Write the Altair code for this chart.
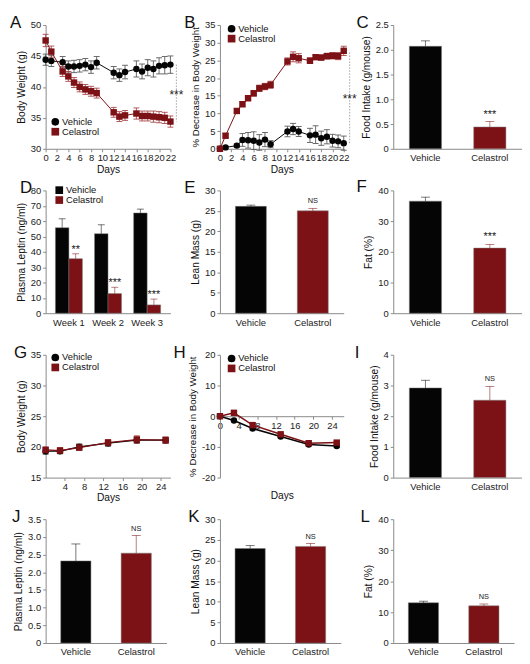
import altair as alt
import pandas as pd

FONT = "Liberation Sans"
GROUPS = ["Vehicle", "Celastrol"]
COLORS = ["#050505", "#7c1215"]
ERR_COLORS = ["#5a5a5a", "#a8474a"]
SHAPES = ["circle", "square"]

# ---- Panel A: body weight (g), DIO mice
days_A = [0, 1, 3, 4, 5, 6, 7, 8, 9, 12, 13, 14, 16, 17, 18, 19, 20, 21, 22]
bw_veh = [44.4, 44.2, 44.0, 43.3, 43.3, 43.4, 43.6, 43.2, 43.9, 42.3, 41.9, 42.4, 42.9, 42.5, 43.1, 42.9, 43.4, 43.5, 43.6]
bw_veh_err = [0.9, 0.9, 0.9, 0.9, 1.0, 1.0, 1.0, 1.0, 1.0, 1.0, 1.0, 1.1, 1.3, 1.2, 1.3, 1.3, 1.3, 1.4, 1.4]
bw_cel = [47.5, 45.7, 42.5, 41.7, 40.7, 40.0, 39.6, 39.3, 39.0, 35.9, 35.2, 35.4, 35.7, 35.3, 35.3, 35.2, 35.1, 35.0, 34.4]
bw_cel_err = [1.0, 0.9, 0.8, 0.8, 0.8, 0.8, 0.8, 0.8, 0.8, 0.8, 0.8, 0.8, 0.9, 0.8, 0.8, 0.9, 0.9, 0.9, 0.9]

# ---- Panel B: % decrease in body weight
pd_veh = [0, 0.4, 0.9, 2.5, 2.4, 2.3, 1.8, 2.6, 1.3, 4.9, 5.6, 4.9, 3.8, 4.0, 3.0, 3.4, 2.3, 2.1, 1.6]
pd_veh_err = [0.3, 0.3, 0.5, 1.8, 2.2, 2.5, 2.2, 2.0, 1.0, 1.5, 1.6, 1.4, 2.0, 2.5, 2.0, 2.0, 1.8, 1.8, 2.0]
pd_cel = [0, 3.7, 10.7, 12.6, 14.3, 15.7, 17.1, 17.6, 18.1, 24.7, 26.0, 25.6, 24.9, 25.9, 25.8, 26.2, 26.3, 26.2, 27.7]
pd_cel_err = [0.5, 0.6, 0.6, 0.7, 0.7, 0.8, 0.9, 0.9, 1.0, 1.0, 1.4, 1.3, 0.8, 0.6, 0.7, 0.8, 0.9, 1.0, 1.3]

# ---- Panel C: food intake
fi_dio = [2.07, 0.44]
fi_dio_err = [0.11, 0.11]

# ---- Panel D: plasma leptin by week
weeks = ["Week 1", "Week 2", "Week 3"]
lep_veh = [55.7, 51.8, 65.3]
lep_veh_err = [5.8, 5.8, 2.5]
lep_cel = [35.5, 12.8, 5.4]
lep_cel_err = [3.2, 4.1, 3.8]
lep_sig = ["**", "***", "***"]

# ---- Panels E, F
lean_dio = [26.1, 25.0]
lean_dio_err = [0.3, 0.6]
fat_dio = [36.5, 21.2]
fat_dio_err = [1.3, 1.2]

# ---- Panels G, H: lean mice
days_G = [0, 3, 7, 13, 19, 25]
bwl_veh = [19.3, 19.3, 20.0, 20.6, 21.1, 21.1]
bwl_veh_err = [0.5, 0.4, 0.5, 0.5, 0.5, 0.5]
bwl_cel = [19.5, 19.4, 19.9, 20.7, 21.2, 21.1]
bwl_cel_err = [0.5, 0.5, 0.5, 0.5, 0.6, 0.5]
pdl_veh = [0, -1.4, -4.0, -6.6, -9.2, -9.7]
pdl_veh_err = [0.3, 0.4, 0.5, 0.4, 0.4, 0.4]
pdl_cel = [0, 1.1, -2.9, -5.9, -8.8, -8.6]
pdl_cel_err = [0.3, 0.4, 0.5, 0.4, 0.4, 0.4]

# ---- Panels I, J, K, L
fi_lean = [2.92, 2.52]
fi_lean_err = [0.25, 0.45]
lep_lean = [2.32, 2.54]
lep_lean_err = [0.48, 0.50]
lean_lean = [22.9, 23.4]
lean_lean_err = [0.7, 0.7]
fat_lean = [13.0, 12.0]
fat_lean_err = [0.5, 0.6]

DEC1 = "datum.value == 0 ? '0' : format(datum.value, '.1f')"
SIGNED = "datum.value < 0 ? '-' + abs(datum.value) : '' + datum.value"

TITLE_DY = 25


def legend(x, y, symbol_type=None):
    kw = dict(title=None, orient="none", legendX=x, legendY=y, labelFontSize=9.5,
              labelFont=FONT, labelColor="#111", symbolSize=60, rowPadding=-1,
              labelOffset=2, padding=0, symbolStrokeWidth=0)
    if symbol_type:
        kw["symbolType"] = symbol_type
    return alt.Legend(**kw)


def title(letter, dx, dy=0):
    return alt.TitleParams(letter, dx=dx, dy=TITLE_DY + dy, offset=0, baseline="alphabetic",
                           anchor="start", frame="group")


def line_panel(letter, dx, days, veh, veh_err, cel, cel_err, ydom, yvals, ytitle,
               xdom, xvals, width, height, leg_xy, sig=None, x_offset=0,
               title_y=None, ylabel_expr=None, lw=1.0, ytitle_size=10.3, tdy=0):
    recs = []
    for g, vals, errs in zip(GROUPS, (veh, cel), (veh_err, cel_err)):
        for d, v, e in zip(days, vals, errs):
            recs.append(dict(day=d, value=v, lo=v - e, hi=v + e, group=g))
    df = pd.DataFrame(recs)
    base = alt.Chart(df)
    xs = alt.Scale(domain=xdom, nice=False, zero=False)
    ys = alt.Scale(domain=ydom, nice=False, zero=False)
    xak = dict(values=xvals, title="Days", labelOverlap=False, labelFlush=False, offset=x_offset,
               tickSize=3, labelPadding=1, titlePadding=2)
    if title_y is not None:
        xak.update(titleY=title_y, titleBaseline="top")
    yak = dict(values=yvals, title=ytitle, titleFontSize=ytitle_size)
    if ylabel_expr:
        yak["labelExpr"] = ylabel_expr

    def X(f):
        return alt.X(f, type="quantitative", scale=xs, axis=alt.Axis(**xak))

    def Y(f):
        return alt.Y(f, type="quantitative", scale=ys, axis=alt.Axis(**yak))

    layers = []
    for g, lc, ec in zip(GROUPS, COLORS, ERR_COLORS):
        sub = base.transform_filter(alt.datum.group == g)
        layers.append(sub.mark_rule(color=ec, strokeWidth=0.9).encode(x=X("day"), y=Y("lo"), y2="hi:Q"))
        layers.append(sub.mark_tick(color=ec, orient="horizontal", size=6, thickness=0.9, opacity=1)
                      .encode(x=X("day"), y=Y("lo")))
        layers.append(sub.mark_tick(color=ec, orient="horizontal", size=6, thickness=0.9, opacity=1)
                      .encode(x=X("day"), y=Y("hi")))
        layers.append(sub.mark_line(color=lc, strokeWidth=lw).encode(x=X("day"), y=Y("value")))
    leg = legend(*leg_xy)
    layers.append(base.mark_point(filled=True, size=42, opacity=1).encode(
        x=X("day"), y=Y("value"),
        color=alt.Color("group:N", scale=alt.Scale(domain=GROUPS, range=COLORS), legend=leg),
        shape=alt.Shape("group:N", scale=alt.Scale(domain=GROUPS, range=SHAPES), legend=leg)))
    if sig:
        sdf = pd.DataFrame({"top": [veh[-1]], "bot": [cel[-1]],
                            "mid": [(veh[-1] + cel[-1]) / 2], "label": [sig]})
        sc = alt.Chart(sdf)
        layers.append(sc.mark_rule(strokeDash=[1.5, 1.5], color="#8a8a8a", strokeWidth=0.8)
                      .encode(x=alt.value(width + 6), y=Y("top"), y2="bot:Q"))
        layers.append(sc.mark_text(fontSize=12, font=FONT, color="#222", baseline="middle", dy=2)
                      .encode(x=alt.value(width + 6), y=Y("mid"), text="label:N"))
    return alt.layer(*layers).properties(width=width, height=height, title=title(letter, dx, tdy))


def bar_panel(letter, dx, vals, errs, sig, ydom, yvals, ytitle, width, height,
              ylabel_expr=None, sig_size=11, sig_dy=0, tdy=0):
    df = pd.DataFrame({"group": GROUPS, "value": vals, "err": errs, "sig": ["", sig]})
    df["hi"] = df["value"] + df["err"]
    base = alt.Chart(df)
    X = alt.X("group:N", sort=GROUPS,
              scale=alt.Scale(domain=GROUPS, paddingInner=0.5, paddingOuter=0.25),
              axis=alt.Axis(title=None, labelAngle=0, ticks=False, labelPadding=4))
    yak = dict(values=yvals, title=ytitle)
    if ylabel_expr:
        yak["labelExpr"] = ylabel_expr
    ys = alt.Scale(domain=ydom, nice=False)

    def Y(f):
        return alt.Y(f, type="quantitative", scale=ys, axis=alt.Axis(**yak))

    C = alt.Color("group:N", scale=alt.Scale(domain=GROUPS, range=COLORS), legend=None)
    bars = base.mark_bar(stroke="#7a7a7a", strokeWidth=0.5).encode(x=X, y=Y("value"), color=C)
    rule = base.mark_rule(opacity=0.6, strokeWidth=0.9).encode(x=X, y=Y("value"), y2="hi:Q", color=C)
    cap = base.mark_tick(orient="horizontal", size=9, thickness=0.9, opacity=0.6).encode(x=X, y=Y("hi"), color=C)
    txt = base.mark_text(baseline="bottom", dy=sig_dy, fontSize=sig_size, font=FONT, color="#222").encode(
        x=X, y=Y("hi"), text="sig:N")
    return alt.layer(bars, rule, cap, txt).properties(width=width, height=height, title=title(letter, dx, tdy))


def grouped_panel(letter, dx, width, height):
    recs = []
    for g, vals, errs in zip(GROUPS, (lep_veh, lep_cel), (lep_veh_err, lep_cel_err)):
        for w, v, e, s in zip(weeks, vals, errs, lep_sig):
            recs.append(dict(week=w, group=g, value=v, hi=v + e, sig=s if g == "Celastrol" else ""))
    df = pd.DataFrame(recs)
    base = alt.Chart(df)
    X = alt.X("week:N", sort=weeks, scale=alt.Scale(paddingInner=0.31, paddingOuter=0.25),
              axis=alt.Axis(title=None, labelAngle=0, ticks=False, labelPadding=4))
    XO = alt.XOffset("group:N", sort=GROUPS, scale=alt.Scale(domain=GROUPS, paddingInner=0, paddingOuter=0))
    ys = alt.Scale(domain=[0, 80], nice=False)

    def Y(f):
        return alt.Y(f, type="quantitative", scale=ys,
                     axis=alt.Axis(values=list(range(0, 81, 10)), title="Plasma Leptin (ng/ml)"))

    leg = legend(9, -5, "square")
    C = alt.Color("group:N", scale=alt.Scale(domain=GROUPS, range=COLORS), legend=leg)
    bars = base.mark_bar(stroke="#7a7a7a", strokeWidth=0.5).encode(x=X, xOffset=XO, y=Y("value"), color=C)
    rule = base.mark_rule(opacity=0.6, strokeWidth=0.9).encode(x=X, xOffset=XO, y=Y("value"), y2="hi:Q", color=C)
    cap = base.mark_tick(orient="horizontal", size=7, thickness=0.9, opacity=0.6).encode(
        x=X, xOffset=XO, y=Y("hi"), color=C)
    txt = base.mark_text(baseline="bottom", dy=1, fontSize=11, font=FONT, color="#222").encode(
        x=X, xOffset=XO, y=Y("hi"), text="sig:N")
    return alt.layer(bars, rule, cap, txt).properties(width=width, height=height, title=title(letter, dx))


A = line_panel("A", -36, days_A, bw_veh, bw_veh_err, bw_cel, bw_cel_err, [30, 50],
               [30, 35, 40, 45, 50], "Body Weight (g)", [0, 22], list(range(0, 23, 2)),
               126, 125, (5, 93), sig="***")
B = line_panel("B", -36, days_A, pd_veh, pd_veh_err, pd_cel, pd_cel_err, [0, 35],
               list(range(0, 36, 5)), "% Decrease in Body Weight", [0, 22], list(range(0, 23, 2)),
               125, 125, (7, -1), sig="***", ytitle_size=9.8)
Cp = bar_panel("C", -37, fi_dio, fi_dio_err, "***", [0, 2.5], [0, 0.5, 1.0, 1.5, 2.0, 2.5],
               "Food Intake (g/mouse)", 130, 125, ylabel_expr=DEC1, sig_size=11, sig_dy=-2)
D = grouped_panel("D", -26, 126, 124)
E = bar_panel("E", -36, lean_dio, lean_dio_err, "NS", [0, 30], list(range(0, 31, 5)),
              "Lean Mass (g)", 125, 124, sig_size=7.5, sig_dy=-3)
F = bar_panel("F", -37, fat_dio, fat_dio_err, "***", [0, 40], [0, 10, 20, 30, 40],
              "Fat (%)", 130, 124, sig_size=11, sig_dy=-2)
G = line_panel("G", -32, days_G, bwl_veh, bwl_veh_err, bwl_cel, bwl_cel_err, [15, 35],
               [15, 20, 25, 30, 35], "Body Weight (g)", [0, 26], [4, 8, 12, 16, 20, 24],
               126, 124, (5, -2), lw=1.3)
H = line_panel("H", -47, days_G, pdl_veh, pdl_veh_err, pdl_cel, pdl_cel_err, [-20, 20],
               [-20, -10, 0, 10, 20], "% Decrease in Body Weight", [0, 26.5], list(range(0, 25, 4)),
               125, 124, (7, -1), x_offset=-62, title_y=75, ylabel_expr=SIGNED, lw=1.5,
               ytitle_size=9.8)
I = bar_panel("I", -39, fi_lean, fi_lean_err, "NS", [0, 4], [0, 1, 2, 3, 4],
              "Food Intake (g/mouse)", 130, 124, sig_size=7.5, sig_dy=-3)
J = bar_panel("J", -34, lep_lean, lep_lean_err, "NS", [0, 3.5], [0, 0.5, 1.0, 1.5, 2.0, 2.5, 3.0, 3.5],
              "Plasma Leptin (ng/ml)", 122, 125, ylabel_expr=DEC1, sig_size=7.5, sig_dy=-3)
K = bar_panel("K", -32, lean_lean, lean_lean_err, "NS", [0, 30], list(range(0, 31, 5)),
              "Lean Mass (g)", 122, 125, sig_size=7.5, sig_dy=-3)
L = bar_panel("L", -33, fat_lean, fat_lean_err, "NS", [0, 40], [0, 10, 20, 30, 40],
              "Fat (%)", 122, 125, sig_size=7.5, sig_dy=-3)

chart = (alt.concat(A, B, Cp, D, E, F, G, H, I, J, K, L, columns=3,
                    spacing={"row": 42, "column": 50}, bounds="flush", align="none")
         .resolve_scale(color="independent", shape="independent")
         .resolve_legend(color="independent", shape="independent")
         .properties(padding={"left": 2, "top": 3, "right": 0, "bottom": 0})
         .configure_view(stroke=None)
         .configure_axis(labelFont=FONT, titleFont=FONT, labelFontSize=9.5, titleFontSize=10.3,
                         titleFontWeight="normal", labelColor="#222", titleColor="#111",
                         domainColor="#8a8a8a", tickColor="#8a8a8a", tickSize=3, grid=False,
                         labelPadding=2, titlePadding=4)
         .configure_title(font=FONT, fontSize=17, fontWeight="normal", color="#111")
         .configure_text(font=FONT))

chart.save("out.html", embed_options={"renderer": "svg", "actions": False})
